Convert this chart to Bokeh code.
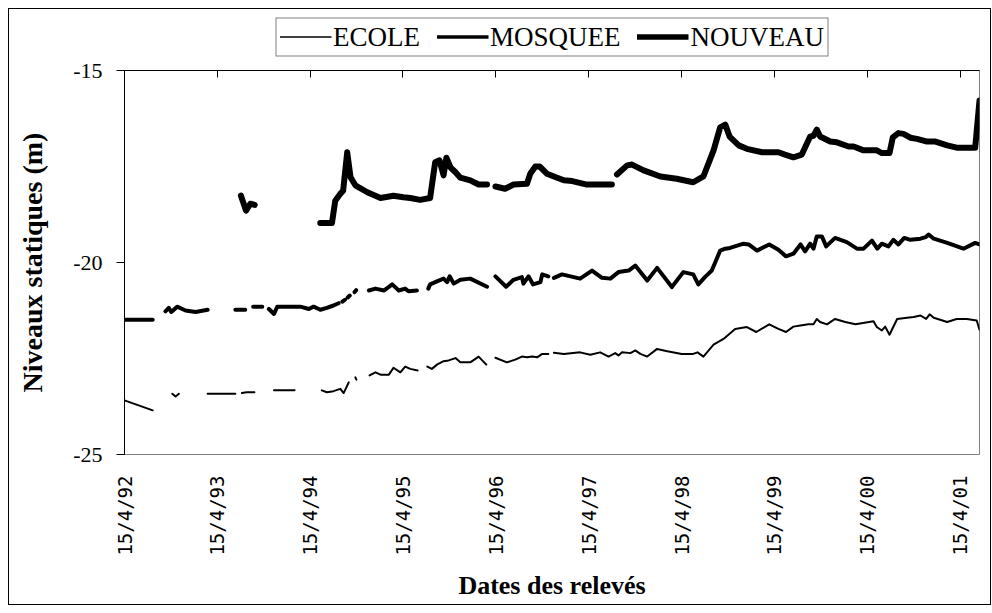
import math
import numpy as np
import pandas as pd
from bokeh.plotting import figure
from bokeh.layouts import column
from bokeh.models import (Range1d, LinearAxis, FixedTicker, CustomJSTickFormatter,
                          Legend, LegendItem, ColumnDataSource)
from bokeh.embed import file_html
from bokeh.resources import INLINE

# ---------------- data (None = no measurement / gap) ----------------
ecole_dates = [
    "1992-04-15", "1992-08-04", None,
    "1992-10-20", "1992-11-02", "1992-11-15", None,
    "1993-03-08", "1993-06-25", None,
    "1993-07-21", "1993-08-08", "1993-09-08", None,
    "1993-11-24", "1994-02-13", None,
    "1994-05-31", "1994-06-20", "1994-07-16", "1994-08-12", "1994-08-25", "1994-09-14", None,
    "1994-10-10", "1994-10-14", None,
    "1994-12-05", "1994-12-28", "1995-01-17", "1995-02-19", "1995-03-09", "1995-04-05",
    "1995-04-24", "1995-05-14", "1995-06-12", None,
    "1995-07-20", "1995-08-07", "1995-08-27", "1995-09-22", "1995-10-12", "1995-11-08",
    "1995-11-27", "1996-01-05", "1996-02-07", "1996-03-08", None,
    "1996-04-13", "1996-05-28", "1996-06-30", "1996-07-26", "1996-08-15", "1996-09-05",
    "1996-09-24", "1996-10-14", "1996-11-07", None,
    "1996-11-29", "1997-01-07", "1997-03-12", "1997-04-21", "1997-05-30", "1997-07-02",
    "1997-07-28", "1997-08-10", "1997-08-24", "1997-09-26", "1997-10-15", "1997-11-04",
    "1997-12-01", "1998-01-09", "1998-02-18", "1998-04-16", "1998-05-31", "1998-06-17",
    "1998-07-10", "1998-08-19", "1998-09-27", "1998-11-12", "1998-12-28", "1999-02-03",
    "1999-03-26", "1999-05-01", "1999-05-31", "1999-06-29", "1999-07-27", "1999-08-27",
    "1999-09-16", "1999-09-29", "1999-10-12", "1999-11-08", "1999-12-10", "2000-01-19",
    "2000-02-28", "2000-05-09", "2000-05-22", "2000-06-11", "2000-06-24", "2000-07-11",
    "2000-08-10", "2000-09-18", "2000-10-14", "2000-11-10", "2000-12-02", "2000-12-16",
    "2001-01-01", "2001-02-23", "2001-04-01", "2001-05-11", "2001-06-19", "2001-06-30",
]
ecole_levels = [
    -23.59, -23.85, None,
    -23.42, -23.49, -23.42, None,
    -23.42, -23.42, None,
    -23.40, -23.38, -23.38, None,
    -23.33, -23.33, None,
    -23.33, -23.38, -23.35, -23.29, -23.40, -23.12, None,
    -22.99, -23.05, None,
    -22.94, -22.86, -22.92, -22.92, -22.74, -22.86,
    -22.71, -22.77, -22.81, None,
    -22.71, -22.77, -22.66, -22.57, -22.55, -22.49,
    -22.60, -22.60, -22.45, -22.66, None,
    -22.48, -22.60, -22.53, -22.45, -22.47, -22.45,
    -22.47, -22.38, -22.38, None,
    -22.35, -22.38, -22.34, -22.40, -22.34, -22.45,
    -22.36, -22.42, -22.34, -22.36, -22.29, -22.38,
    -22.45, -22.25, -22.31, -22.38, -22.38, -22.34,
    -22.45, -22.14, -21.99, -21.73, -21.68, -21.81,
    -21.61, -21.73, -21.81, -21.67, -21.64, -21.61,
    -21.61, -21.47, -21.55, -21.61, -21.47, -21.55,
    -21.61, -21.53, -21.68, -21.77, -21.67, -21.88,
    -21.47, -21.44, -21.42, -21.38, -21.47, -21.35,
    -21.44, -21.55, -21.47, -21.47, -21.51, -21.75,
]

mosquee_dates = [
    "1992-04-15", "1992-08-04", None,
    "1992-09-23", "1992-10-06", "1992-10-16", "1992-11-08", "1992-12-11", "1993-01-20",
    "1993-03-08", None,
    "1993-06-25", "1993-08-03", None,
    "1993-09-03", "1993-10-09", None,
    "1993-11-04", "1993-11-24", "1993-12-07", "1994-03-08", "1994-04-10", "1994-04-29",
    "1994-05-25", "1994-06-20", "1994-07-16", "1994-08-05", None,
    "1994-08-20", "1994-08-30", None,
    "1994-09-10", "1994-09-18", None,
    "1994-10-07", "1994-10-13", None,
    "1994-12-02", "1994-12-28", "1995-01-30", "1995-03-04", "1995-03-30", "1995-04-24",
    "1995-05-07", "1995-06-09", None,
    "1995-07-24", "1995-07-31", "1995-08-27", "1995-09-22", "1995-10-06", "1995-10-16",
    "1995-11-01", "1995-11-27", "1996-01-05", "1996-03-11", None,
    "1996-04-13", "1996-05-25", "1996-06-23", "1996-07-26", "1996-08-01", "1996-08-21",
    "1996-09-08", "1996-10-07", "1996-10-14", "1996-11-07", None,
    "1996-11-29", "1996-12-31", "1997-03-12", "1997-04-28", "1997-06-06", "1997-07-09",
    "1997-08-10", "1997-09-19", "1997-10-15", "1997-12-01", "1998-01-09", "1998-03-08",
    "1998-04-22", "1998-05-31", "1998-06-20", "1998-07-16", "1998-08-12", "1998-09-14",
    "1998-10-04", "1998-10-23", "1998-12-15", "1999-01-04", "1999-02-06", "1999-03-26",
    "1999-05-01", "1999-05-31", "1999-06-29", "1999-07-27", "1999-08-14", "1999-09-03",
    "1999-09-16", "1999-09-29", "1999-10-19", "1999-11-05", "1999-12-10", "2000-01-25",
    "2000-03-05", "2000-03-31", "2000-05-03", "2000-05-24", "2000-06-11", "2000-07-07",
    "2000-07-26", "2000-08-15", "2000-09-07", "2000-10-01", "2000-11-10", "2000-11-30",
    "2000-12-12", "2001-01-01", "2001-02-23", "2001-04-28", "2001-06-13", "2001-06-30",
]
mosquee_levels = [
    -21.49, -21.49, None,
    -21.27, -21.18, -21.29, -21.15, -21.25, -21.29,
    -21.23, None,
    -21.23, -21.23, None,
    -21.15, -21.15, None,
    -21.21, -21.34, -21.15, -21.15, -21.21, -21.15,
    -21.23, -21.18, -21.12, -21.06, None,
    -21.02, -20.97, None,
    -20.91, -20.86, None,
    -20.77, -20.72, None,
    -20.73, -20.68, -20.73, -20.57, -20.73, -20.68,
    -20.75, -20.73, None,
    -20.68, -20.57, -20.49, -20.42, -20.51, -20.36,
    -20.55, -20.45, -20.42, -20.63, None,
    -20.36, -20.63, -20.45, -20.38, -20.55, -20.36,
    -20.57, -20.51, -20.31, -20.36, None,
    -20.40, -20.31, -20.42, -20.21, -20.40, -20.42,
    -20.25, -20.21, -20.08, -20.47, -20.14, -20.64,
    -20.25, -20.31, -20.57, -20.38, -20.21, -19.69,
    -19.64, -19.62, -19.51, -19.53, -19.69, -19.53,
    -19.67, -19.84, -19.77, -19.53, -19.71, -19.51,
    -19.64, -19.32, -19.32, -19.58, -19.36, -19.47,
    -19.64, -19.64, -19.43, -19.64, -19.51, -19.58,
    -19.41, -19.53, -19.36, -19.41, -19.38, -19.34,
    -19.27, -19.38, -19.49, -19.64, -19.49, -19.53,
]

nouveau_dates = [
    "1993-07-17", "1993-08-06", "1993-08-23", "1993-09-09", None,
    "1994-05-25", "1994-07-10", "1994-07-23", "1994-08-12", "1994-08-23", "1994-09-08",
    "1994-09-21", "1994-10-10", "1994-11-26", "1995-01-17", "1995-03-09", "1995-04-17",
    "1995-05-14", "1995-06-22", "1995-07-31", "1995-08-20", "1995-09-06", "1995-09-22",
    "1995-10-03", "1995-10-19", "1995-11-08", "1995-11-27", "1996-01-05", "1996-02-07",
    "1996-03-11", None,
    "1996-04-13", "1996-05-21", "1996-06-23", "1996-08-15", "1996-08-28", "1996-09-17",
    "1996-10-04", "1996-11-02", "1996-11-29", "1997-01-07", "1997-02-09", "1997-04-08",
    "1997-07-15", None,
    "1997-08-04", "1997-09-13", "1997-10-02", "1997-11-17", "1998-01-22", "1998-03-27",
    "1998-05-31", "1998-07-10", "1998-08-19", "1998-09-14", "1998-10-04", "1998-10-21",
    "1998-11-26", "1998-12-28", "1999-02-26", "1999-05-01", "1999-05-27", "1999-06-29",
    "1999-08-01", "1999-09-03", "1999-09-16", "1999-09-29", "1999-10-12", "1999-11-21",
    "1999-12-17", "2000-02-01", "2000-02-21", "2000-03-31", "2000-05-22", "2000-06-11",
    "2000-07-11", "2000-07-24", "2000-08-15", "2000-09-04", "2000-10-01", "2000-10-27",
    "2000-12-06", "2001-01-08", "2001-02-23", "2001-04-01", "2001-06-13", "2001-06-30",
]
nouveau_levels = [
    -18.26, -18.65, -18.47, -18.50, None,
    -18.97, -18.97, -18.39, -18.21, -18.13, -17.13,
    -17.78, -17.99, -18.17, -18.32, -18.26, -18.30,
    -18.32, -18.37, -18.32, -17.39, -17.34, -17.73,
    -17.27, -17.52, -17.65, -17.79, -17.86, -17.97,
    -17.97, None,
    -18.02, -18.08, -17.97, -17.95, -17.69, -17.50,
    -17.50, -17.69, -17.76, -17.86, -17.88, -17.97,
    -17.97, None,
    -17.71, -17.47, -17.45, -17.60, -17.76, -17.82,
    -17.91, -17.76, -17.08, -16.48, -16.41, -16.72,
    -16.95, -17.04, -17.13, -17.13, -17.19, -17.26,
    -17.19, -16.72, -16.70, -16.54, -16.72, -16.85,
    -16.87, -16.98, -16.98, -17.08, -17.08, -17.15,
    -17.15, -16.74, -16.63, -16.65, -16.75, -16.78,
    -16.85, -16.85, -16.95, -17.01, -17.01, -15.78,
]

series_names = ["ECOLE", "MOSQUEE", "NOUVEAU"]
tick_dates = ["1992-04-15", "1993-04-15", "1994-04-15", "1995-04-15", "1996-04-15",
              "1997-04-15", "1998-04-15", "1999-04-15", "2000-04-15", "2001-04-15"]
y_ticks = [-25, -20, -15]
y_tick_labels = ["-25", "-20", "-15"]
x_start, x_end = "1992-04-15", "2001-06-30"
y_start, y_end = -25, -15

EPOCH = pd.Timestamp("1970-01-01")


def to_ms(dates):
    d = pd.Series(pd.to_datetime(dates)).ffill()
    return ((d - EPOCH) // pd.Timedelta(milliseconds=1)).astype(float).tolist()


def make_source(dates, levels):
    return ColumnDataSource(dict(
        x=to_ms(dates),
        y=[np.nan if v is None else v for v in levels],
    ))


SERIF = "Liberation Serif"
WIDTH = 981
LEG_H = 49
MAIN_H = 595 - LEG_H
LINE_WIDTHS = [2, 4, 6]
LEGEND_WIDTHS = [1.5, 3.5, 5.5]

# ---------------- legend strip (top of the chart) ----------------
leg = figure(width=WIDTH, height=LEG_H, output_backend="svg", toolbar_location=None,
             x_axis_type=None, y_axis_type=None,
             x_range=Range1d(0, 1), y_range=Range1d(0, 1),
             min_border_left=86, min_border_right=7,
             min_border_top=6, min_border_bottom=0,
             background_fill_color="white", border_fill_color="white")
leg.outline_line_color = None
leg_items = []
for name, lw in zip(series_names, LEGEND_WIDTHS):
    # placeholder renderer (a single missing value) that only feeds the legend
    rr = leg.line(x=[np.nan], y=[np.nan], line_color="black", line_width=lw)
    leg_items.append(LegendItem(label=name, renderers=[rr]))
legend = Legend(items=leg_items, orientation="horizontal", location="center")
legend.label_text_font = SERIF
legend.label_text_font_size = "27px"
legend.label_text_color = "black"
legend.glyph_width = 52
legend.glyph_height = 20
legend.label_standoff = 2
legend.spacing = 16
legend.padding = 3
legend.margin = 0
legend.border_line_color = "black"
legend.border_line_width = 1
legend.background_fill_color = "white"
leg.add_layout(legend, "center")

# ---------------- main chart ----------------
p = figure(width=WIDTH, height=MAIN_H, output_backend="svg", toolbar_location=None,
           x_axis_type=None, y_axis_type=None,
           x_range=Range1d(to_ms([x_start])[0], to_ms([x_end])[0]),
           y_range=Range1d(y_start, y_end),
           min_border_left=115, min_border_right=11,
           min_border_top=12, min_border_bottom=150,
           background_fill_color="white", border_fill_color="white")
p.outline_line_color = "#808080"
p.outline_line_width = 1

# left axis
yax = LinearAxis(ticker=FixedTicker(ticks=y_ticks),
                 axis_label="Niveaux statiques (m)")
yax.major_label_overrides = dict(zip(y_ticks, y_tick_labels))
yax.axis_line_color = "black"
yax.major_tick_in = 0
yax.major_tick_out = 8
yax.minor_tick_line_color = None
yax.major_label_standoff = 14
yax.major_label_text_font = SERIF
yax.major_label_text_font_size = "22px"
yax.major_label_text_color = "black"
yax.axis_label_text_font = SERIF
yax.axis_label_text_font_style = "bold"
yax.axis_label_text_font_size = "28px"
yax.axis_label_text_color = "black"
yax.axis_label_standoff = 22
p.add_layout(yax, "left")

date_fmt = CustomJSTickFormatter(code="""
const d = new Date(tick);
return d.getUTCDate() + "/" + (d.getUTCMonth() + 1) + "/" + String(d.getUTCFullYear()).slice(2);
""")

# bottom axis: labels only
xax = LinearAxis(ticker=FixedTicker(ticks=to_ms(tick_dates)), formatter=date_fmt,
                 axis_label="Dates des relevés")
xax.axis_line_color = None
xax.major_tick_line_color = None
xax.minor_tick_line_color = None
xax.major_tick_in = 0
xax.major_tick_out = 0
xax.major_label_orientation = math.pi / 2
xax.major_label_standoff = 21
xax.major_label_text_font = "DejaVu Sans Mono"
xax.major_label_text_font_size = "19px"
xax.major_label_text_color = "black"
xax.axis_label_text_font = SERIF
xax.axis_label_text_font_style = "bold"
xax.axis_label_text_font_size = "26px"
xax.axis_label_text_color = "black"
xax.axis_label_standoff = 12
p.add_layout(xax, "below")

# top axis: the category axis line with its tick marks
tax = LinearAxis(ticker=FixedTicker(ticks=to_ms(tick_dates)),
                 formatter=CustomJSTickFormatter(code="return '';"))
tax.axis_line_color = "black"
tax.major_tick_line_color = "black"
tax.minor_tick_line_color = None
tax.major_tick_in = 7
tax.major_tick_out = 0
tax.major_label_standoff = 0
p.add_layout(tax, "above")

for dates, levels, lw in zip([ecole_dates, mosquee_dates, nouveau_dates],
                             [ecole_levels, mosquee_levels, nouveau_levels],
                             LINE_WIDTHS):
    p.line("x", "y", source=make_source(dates, levels),
           line_color="black", line_width=lw, line_join="round", line_cap="round")

chart = column(leg, p, spacing=0,
               styles={"margin": "8px 0 0 8px", "border": "1px solid black"})

open("out.html", "w").write(file_html(chart, INLINE))
